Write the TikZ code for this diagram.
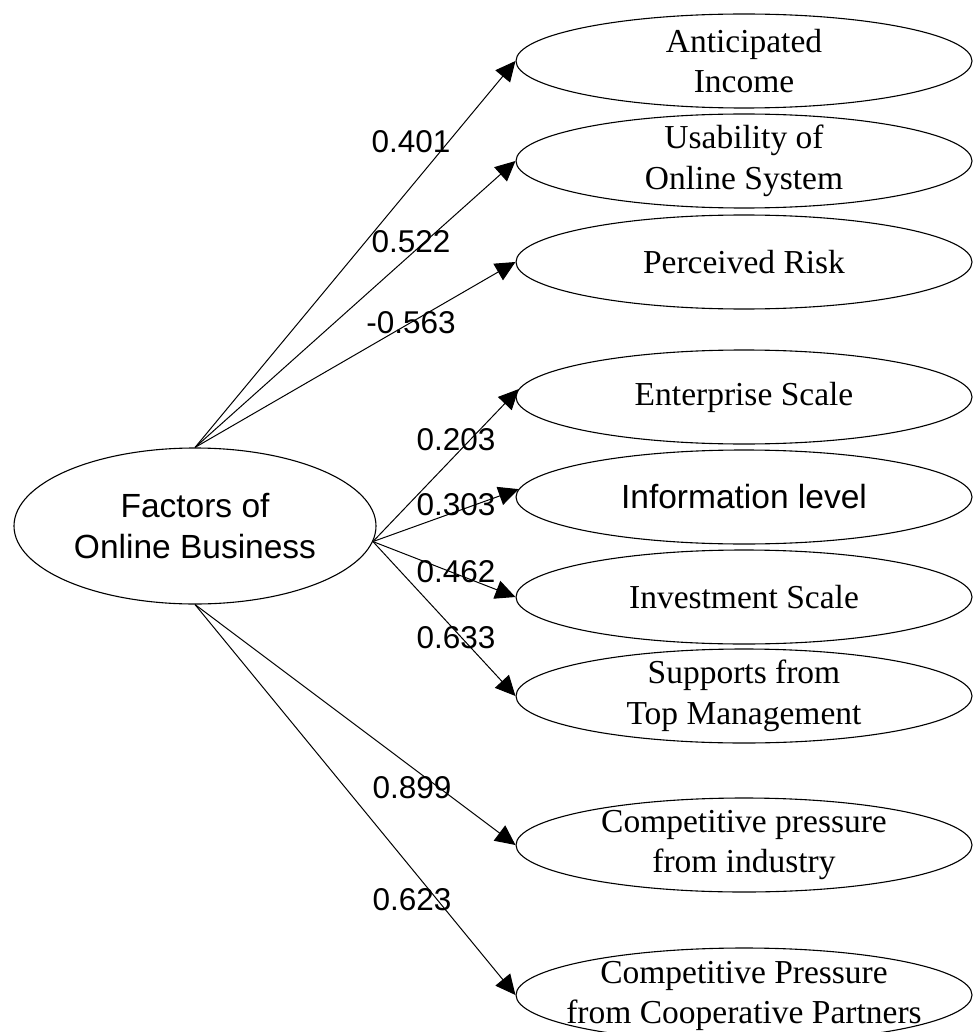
\documentclass[tikz,border=0pt]{standalone}
\usepackage{fontspec}
\setmainfont{Liberation Serif}
\setsansfont{Liberation Sans}
\usetikzlibrary{shapes.geometric,arrows.meta}
\begin{document}
\begin{tikzpicture}[x=1pt,y=-1pt,
  tgt/.style={draw, ellipse, line width=1.1pt, minimum width=456pt, minimum height=94pt, inner sep=0pt},
  src/.style={draw, ellipse, line width=1.1pt, minimum width=362pt, minimum height=156pt, inner sep=0pt},
  tl/.style={align=center, inner sep=0pt, font=\fontsize{33.5}{40.5}\selectfont},
  sl/.style={align=center, inner sep=0pt, font=\sffamily\fontsize{33.5}{40.5}\selectfont},
  lbl/.style={font=\sffamily\fontsize{31.5}{37}\selectfont, inner sep=0pt},
  con/.style={line width=1pt, -{Triangle[length=20pt,width=19pt]}}]
\useasboundingbox (0,0) rectangle (973,1032);
\fill[white] (0,0) rectangle (973,1032);

\node[src, label={[sl]center:Factors of\\Online Business}] (f) at (195,526) {};

\node[tgt, label={[tl]center:Anticipated\\Income}] (ai) at (744,61) {};
\node[tgt, label={[tl]center:Usability of\\Online System}] (us) at (744,161) {};
\node[tgt, label={[tl]center:Perceived Risk}] (pr) at (744,262) {};
\node[tgt, label={[tl]center:Enterprise Scale}] (es) at (744,397) {};
\node[tgt, label={[sl]center:Information level}] (il) at (744,497) {};
\node[tgt, label={[tl]center:Investment Scale}] (is) at (744,597) {};
\node[tgt, label={[tl]center:Supports from\\Top Management}] (sm) at (744,696) {};
\node[tgt, label={[tl]center:Competitive pressure\\from industry}] (ci) at (744,845) {};
\node[tgt, label={[tl,yshift=-1pt]center:Competitive Pressure\\from Cooperative Partners}] (cp) at (744,995) {};

\draw[con] (f.north) -- (ai.west);
\draw[con] (f.north) -- (us.west);
\draw[con] (f.north) -- (pr.west);
\draw[con] (f.-5) -- (es.178);
\draw[con] (f.-5) -- (il.178);
\draw[con] (f.-5) -- (is.west);
\draw[con] (f.-5) -- (sm.west);
\draw[con] (f.south) -- (ci.west);
\draw[con] (f.south) -- (cp.west);

\node[lbl] (l1) at (411,142) {0.401};
\node[lbl] (l2) at (411,242) {0.522};
\node[lbl] (l3) at (411,323) {-0.563};
\node[lbl] (l4) at (456,440) {0.203};
\node[lbl] (l5) at (456,505) {0.303};
\node[lbl] (l6) at (456,572) {0.462};
\node[lbl] (l7) at (456,638) {0.633};
\node[lbl] (l8) at (412,788) {0.899};
\node[lbl] (l9) at (412,900) {0.623};
\end{tikzpicture}
\end{document}
